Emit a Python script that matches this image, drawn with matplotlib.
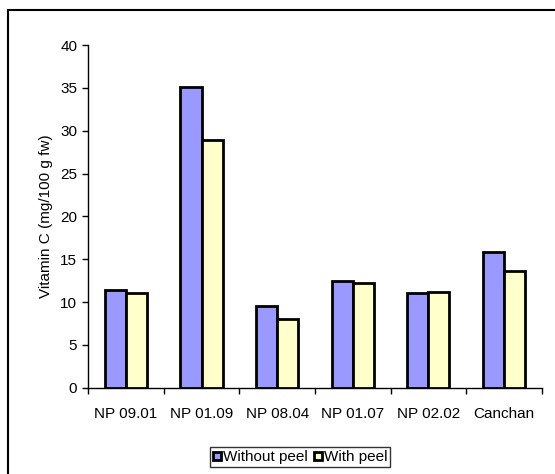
import matplotlib
matplotlib.use("Agg")
import matplotlib.pyplot as plt
import numpy as np
from matplotlib.lines import Line2D
from matplotlib.patches import Rectangle

plt.rcParams['font.family'] = ['Liberation Sans', 'DejaVu Sans']

varieties = ["NP 09.01", "NP 01.09", "NP 08.04", "NP 01.07", "NP 02.02", "Canchan"]
without_peel = [11.4, 35.1, 9.5, 12.5, 11.0, 15.9]
with_peel = [11.0, 28.9, 8.0, 12.2, 11.2, 13.6]
yticks = [0, 5, 10, 15, 20, 25, 30, 35, 40]

blue = '#9999FF'
yellow = '#FFFFCC'

fig = plt.figure(figsize=(5.55, 4.74), dpi=100)
ax = fig.add_axes([0.159, 0.182, 0.817, 0.723])

X = np.arange(len(varieties)) + 0.5
w = 0.28
ax.bar(X - w / 2, without_peel, width=w, color=blue, edgecolor='black', linewidth=2, zorder=3)
ax.bar(X + w / 2, with_peel, width=w, color=yellow, edgecolor='black', linewidth=2, zorder=3)

ax.set_xlim(0, len(varieties))
ax.set_ylim(0, 40)
ax.set_yticks(yticks)
ax.tick_params(axis='y', direction='out', length=4, width=1, pad=4, labelsize=11)

# labels at category centres, tick marks at category boundaries
ax.set_xticks(X)
ax.set_xticklabels(varieties, fontsize=11)
ax.set_xticks(np.arange(len(varieties) + 1), minor=True)
ax.tick_params(axis='x', which='major', length=0, pad=14)
ax.tick_params(axis='x', which='minor', direction='out', length=4, width=1)

ax.spines['top'].set_visible(False)
ax.spines['right'].set_visible(False)
ax.spines['left'].set_linewidth(1)
ax.spines['bottom'].set_linewidth(1)

ax.set_ylabel("Vitamin C (mg/100 g fw)", fontsize=11, labelpad=5)

handles = [
    Line2D([], [], marker='s', linestyle='none', markersize=6, markerfacecolor=blue,
           markeredgecolor='black', markeredgewidth=2),
    Line2D([], [], marker='s', linestyle='none', markersize=6, markerfacecolor=yellow,
           markeredgecolor='black', markeredgewidth=2),
]
leg = fig.legend(handles, ["Without peel", "With peel"], loc='center', ncol=2,
                 bbox_to_anchor=(0.541, 0.035), fontsize=11, frameon=True, fancybox=False,
                 handlelength=0.5, handletextpad=0.15, columnspacing=0.4,
                 borderpad=0.2, borderaxespad=0)
leg.get_frame().set_edgecolor('black')
leg.get_frame().set_linewidth(1)

# outer chart border (cut off at right and bottom like the original)
fig.patches.append(Rectangle((8 / 555, -0.02), 1.05, 1 - 10 / 474 + 0.02,
                             transform=fig.transFigure, fill=False,
                             edgecolor='black', linewidth=1.5))

fig.savefig("out.png", dpi=100)
